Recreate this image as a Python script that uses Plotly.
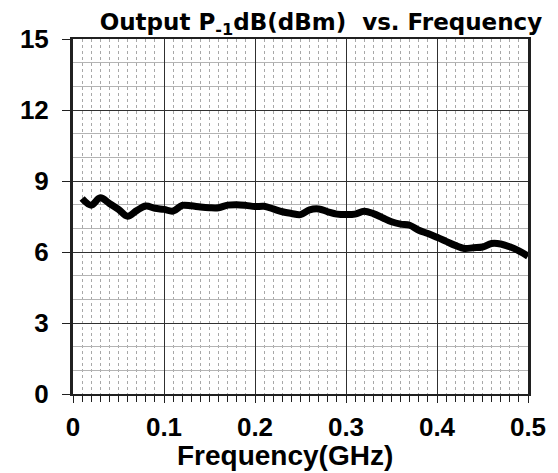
import plotly.graph_objects as go

freq = [0.01, 0.02, 0.03, 0.04, 0.05, 0.06, 0.07, 0.08, 0.09, 0.10,
        0.11, 0.12, 0.13, 0.14, 0.15, 0.16, 0.17, 0.18, 0.19, 0.20,
        0.21, 0.22, 0.23, 0.24, 0.25, 0.26, 0.27, 0.28, 0.29, 0.30,
        0.31, 0.32, 0.33, 0.34, 0.35, 0.36, 0.37, 0.38, 0.39, 0.40,
        0.41, 0.42, 0.43, 0.44, 0.45, 0.46, 0.47, 0.48, 0.49, 0.50]
p1db = [8.26, 7.98, 8.29, 8.05, 7.80, 7.51, 7.75, 7.94, 7.85, 7.80,
        7.73, 7.97, 7.95, 7.90, 7.87, 7.87, 7.98, 8.00, 7.97, 7.92,
        7.93, 7.82, 7.70, 7.63, 7.58, 7.78, 7.82, 7.70, 7.60, 7.58,
        7.60, 7.72, 7.62, 7.45, 7.28, 7.18, 7.13, 6.92, 6.78, 6.62,
        6.45, 6.28, 6.15, 6.18, 6.21, 6.36, 6.34, 6.22, 6.05, 5.82]

x_ticks = [0, 0.1, 0.2, 0.3, 0.4, 0.5]
x_labels = ["0", "0.1", "0.2", "0.3", "0.4", "0.5"]
y_ticks = [0, 3, 6, 9, 12, 15]

fig = go.Figure()
fig.add_trace(go.Scatter(x=freq, y=p1db, mode="lines",
                         line=dict(color="black", width=7, shape="spline"),
                         showlegend=False))

tick_font = dict(family="Liberation Sans", size=26, color="black", weight="bold")

fig.update_layout(
    width=550, height=465,
    margin=dict(l=61, r=28, t=31, b=79),
    paper_bgcolor="white", plot_bgcolor="white",
    title=dict(text="<b>Output P<sub>-1</sub>dB(dBm)  vs. Frequency</b>",
               x=0.569, xanchor="center", y=0.97, yanchor="middle",
               font=dict(family="DejaVu Sans", size=23, color="black")),
    xaxis=dict(range=[0, 0.5], tickvals=x_ticks, ticktext=x_labels,
               showgrid=True, gridcolor="#303030", gridwidth=1,
               showline=True, linecolor="#202020", linewidth=2, mirror=True,
               ticks="outside", ticklen=7, tickcolor="#202020",
               ticklabelstandoff=2,
               tickfont=tick_font,
               zeroline=False,
               minor=dict(dtick=0.01, showgrid=True, gridcolor="#a8a8a8", griddash="dot",
                          gridwidth=1, ticks="outside", ticklen=6, tickcolor="#202020")),
    yaxis=dict(range=[0, 15], tickvals=y_ticks,
               showgrid=True, gridcolor="#303030", gridwidth=1,
               showline=True, linecolor="#202020", linewidth=3, mirror=True,
               ticks="outside", ticklen=8, tickcolor="#202020",
               ticklabelstandoff=8,
               tickfont=tick_font,
               zeroline=False,
               minor=dict(dtick=1, showgrid=True, gridcolor="#b4b4b4", gridwidth=1, ticks="")),
    annotations=[dict(text="<b>Frequency(GHz)</b>", xref="paper", yref="paper",
                      x=0.466, y=-0.172, xanchor="center", yanchor="middle",
                      showarrow=False,
                      font=dict(family="Liberation Sans", size=28, color="black"))],
)

fig.write_html("out.html")
